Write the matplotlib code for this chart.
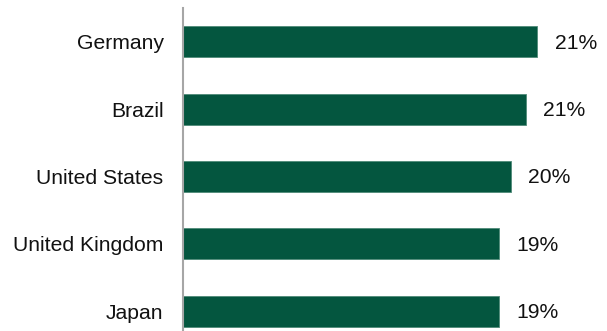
import matplotlib.pyplot as plt

countries = ['Germany', 'Brazil', 'United States', 'United Kingdom', 'Japan']
shares = [21.3, 20.6, 19.7, 19.0, 19.0]

plt.rcParams['font.family'] = ['Liberation Sans', 'DejaVu Sans']

fig = plt.figure(figsize=(6.07, 3.31), dpi=100)
ax = fig.add_axes([183 / 607, -14 / 331, 424 / 607, 337 / 331])

ypos = range(len(countries))
ax.barh(ypos, shares, height=0.46, color='#04563f', edgecolor='#4f8a78', linewidth=0.6)

for y, v in zip(ypos, shares):
    ax.annotate(f'{v:.0f}%', xy=(v, y), xytext=(12.5, -1), textcoords='offset points',
                va='center', ha='left', fontsize=15.2, color='#111111')

ax.set_yticks(list(ypos))
ax.set_yticklabels(countries, fontsize=15.2, color='#111111')
ax.tick_params(axis='y', length=0, pad=14)
ax.set_ylim(len(countries) - 0.5, -0.5)
ax.set_xlim(0, 25.5)
ax.set_xticks([])

for side in ['top', 'right', 'bottom']:
    ax.spines[side].set_visible(False)
ax.spines['left'].set_color('#a6a6a6')
ax.spines['left'].set_linewidth(1.5)

fig.savefig('out.png', dpi=100)
